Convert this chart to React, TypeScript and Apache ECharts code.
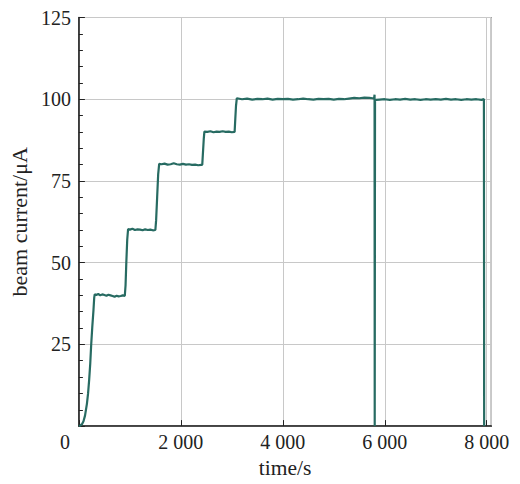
import React, { useEffect, useRef } from 'react';
import * as echarts from 'echarts';

// time in seconds
const timeS = [
  0, 30, 60, 90, 120, 157, 180, 202, 222, 241, 262, 286, 300, 310,
  340, 380, 420, 460, 500, 540, 580, 620, 660, 700, 740, 780, 820, 860, 900,
  915, 930, 948, 965,
  1000, 1050, 1100, 1150, 1200, 1250, 1300, 1350, 1400, 1450, 1500,
  1515, 1535, 1555, 1575,
  1620, 1680, 1740, 1800, 1860, 1920, 1980, 2040, 2100, 2160, 2220, 2280, 2340, 2400, 2420,
  2435, 2450, 2462,
  2520, 2580, 2640, 2700, 2760, 2820, 2880, 2940, 3000, 3055,
  3068, 3082, 3098,
  3200, 3300, 3400, 3500, 3600, 3700, 3800, 3900, 4000, 4100, 4200, 4300, 4400, 4500,
  4600, 4700, 4800, 4900, 5000, 5100, 5200, 5300, 5400, 5500, 5600, 5700, 5760, 5790,
  5800, 5803, 5806, 5809, 5830,
  5900, 6000, 6100, 6200, 6300, 6400, 6500, 6600, 6700, 6800, 6900, 7000, 7100, 7200,
  7300, 7400, 7500, 7600, 7700, 7800, 7900, 7945, 7950, 7960,
];

// beam current in microamperes
const currentUA = [
  0, 0.2, 0.6, 1.5, 3.2, 6.8, 10.0, 14.3, 19.0, 24.9, 30.2, 35.5, 39.2, 40.3,
  40.1, 40.4, 40.0, 40.3, 40.1, 39.9, 40.2, 40.0, 39.8, 39.6, 39.9, 39.7, 39.8, 40.0, 39.8,
  43, 50, 57, 60.3,
  60.1, 60.4, 60.0, 60.2, 60.1, 59.9, 60.2, 60.0, 60.1, 59.9, 60.0,
  63, 70, 77, 80.2,
  80.1, 80.3, 80.0, 80.1, 80.4, 80.1, 80.0, 80.2, 80.0, 80.1, 79.9, 80.0, 79.8, 79.9, 80.0,
  84, 88, 90.1,
  90.0, 90.2, 89.9, 90.1, 90.0, 90.2, 90.0, 90.1, 89.9, 90.0,
  94, 98, 100.3,
  100.0, 100.2, 99.9, 100.1, 100.0, 100.2, 99.9, 100.1, 100.0, 100.1, 99.9, 100.0, 100.2, 100.0,
  99.9, 100.1, 100.0, 100.1, 99.9, 100.1, 100.0, 100.2, 100.4, 100.3, 100.5, 100.4, 100.3, 100.2,
  101.4, 0, 0, 99.6, 99.8,
  99.9, 100.0, 99.8, 100.0, 99.9, 100.1, 99.9, 100.0, 99.8, 100.0, 99.9, 100.0, 99.9, 100.1,
  99.9, 100.0, 99.8, 100.0, 99.9, 100.0, 99.8, 100.1, 0, 0,
];

const xTicks = [0, 2000, 4000, 6000, 8000];
const yTicks = [25, 50, 75, 100, 125];

export default function App() {
  const ref = useRef<HTMLDivElement>(null);
  useEffect(() => {
    const chart = echarts.init(ref.current!, null, { renderer: 'svg' });
    const font = 'Liberation Serif';
    const data = timeS.map((t, i) => [t, currentUA[i]]);
    chart.setOption({
      animation: false,
      backgroundColor: '#ffffff',
      textStyle: { fontFamily: font },
      grid: {
        left: 78.5,
        right: 28.7,
        top: 17.5,
        bottom: 53.3,
        show: true,
        borderColor: '#555555',
        borderWidth: 1.2,
      },
      xAxis: {
        type: 'value',
        min: 0,
        max: 8090,
        interval: 2000,
        name: 'time/s',
        nameLocation: 'middle',
        nameGap: 29,
        nameTextStyle: { fontFamily: font, fontSize: 21.5, color: '#222' },
        axisLine: { show: true, lineStyle: { color: '#222', width: 1.5 } },
        axisTick: { show: true, inside: true, length: 6, lineStyle: { color: '#222' } },
        splitLine: { show: true, lineStyle: { color: '#c8c8c8', width: 1 } },
        axisLabel: {
          fontFamily: font,
          fontSize: 20,
          color: '#222',
          margin: 6,
          showMaxLabel: false,
          formatter: (v: number) => {
            if (!xTicks.includes(v)) return '';
            if (v === 0) return '{z|0}';
            return `${Math.round(v / 1000)} 000`;
          },
          rich: {
            z: { fontFamily: font, fontSize: 20, color: '#222', padding: [0, 28, 0, 0] },
          },
        },
      },
      yAxis: {
        type: 'value',
        min: 0,
        max: 125,
        interval: 25,
        name: 'beam current/μA',
        nameLocation: 'middle',
        nameGap: 42,
        nameTextStyle: { fontFamily: font, fontSize: 22, color: '#222' },
        axisLine: { show: true, lineStyle: { color: '#222', width: 1.5 } },
        axisTick: { show: true, inside: true, length: 6, lineStyle: { color: '#222' } },
        minorTick: { show: true, splitNumber: 5, length: 4, lineStyle: { color: '#222' } },
        splitLine: { show: true, lineStyle: { color: '#c8c8c8', width: 1 } },
        axisLabel: {
          fontFamily: font,
          fontSize: 20,
          color: '#222',
          margin: 8,
          formatter: (v: number) => (yTicks.includes(v) ? String(v) : ''),
        },
      },
      series: [
        {
          type: 'line',
          data,
          showSymbol: false,
          symbol: 'none',
          lineStyle: { color: '#276b62', width: 2.2 },
        },
      ],
    });
    return () => chart.dispose();
  }, []);
  return (
    <div
      ref={ref}
      style={{ position: 'fixed', left: 0, top: 0, width: 520, height: 484 }}
    />
  );
}
